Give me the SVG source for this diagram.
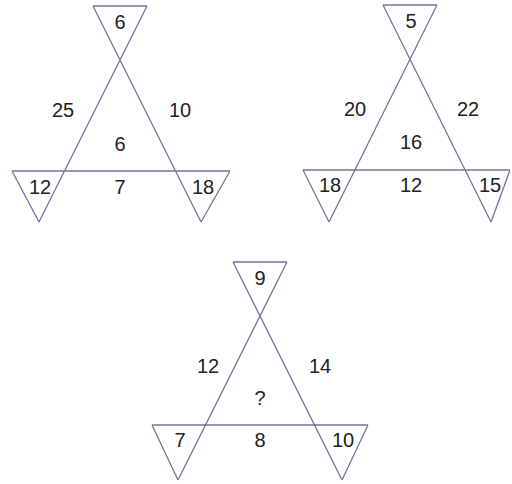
<svg xmlns="http://www.w3.org/2000/svg" width="512" height="484" viewBox="0 0 512 484">
<style>
  .ln { fill: none; stroke: #75739f; stroke-width: 1.3; stroke-linejoin: miter; }
  .t { font-family: "Liberation Sans", Arial, sans-serif; font-size: 20px; fill: #222222; text-anchor: middle; }
</style>
<rect width="512" height="484" fill="#ffffff"/>
<g id="figure1">
  <path class="ln" d="M93,6 L147,6 M93,6 L201,222 M147,6 L39,222 M12,171 L230,171 M12,171 L39,222 M230,171 L201,222"/>
  <text class="t" x="120" y="29">6</text>
  <text class="t" x="63" y="117">25</text>
  <text class="t" x="180" y="117">10</text>
  <text class="t" x="120" y="151">6</text>
  <text class="t" x="40" y="194">12</text>
  <text class="t" x="120" y="194">7</text>
  <text class="t" x="203" y="194">18</text>
</g>
<g id="figure2">
  <path class="ln" d="M383,5 L437,5 M383,5 L491,222 M437,5 L329,222 M303,170 L510,170 M303,170 L329,222 M510,170 L491,222"/>
  <text class="t" x="411" y="28">5</text>
  <text class="t" x="355" y="116">20</text>
  <text class="t" x="468" y="116">22</text>
  <text class="t" x="411" y="149">16</text>
  <text class="t" x="330" y="192">18</text>
  <text class="t" x="411" y="192">12</text>
  <text class="t" x="490" y="192">15</text>
</g>
<g id="figure3">
  <path class="ln" d="M233,262 L287,262 M233,262 L342,480 M287,262 L178,480 M152,425 L368,425 M152,425 L178,480 M368,425 L342,480"/>
  <text class="t" x="260" y="285">9</text>
  <text class="t" x="208" y="373">12</text>
  <text class="t" x="320" y="373">14</text>
  <text class="t" x="260" y="405">?</text>
  <text class="t" x="180" y="447">7</text>
  <text class="t" x="260" y="447">8</text>
  <text class="t" x="343" y="447">10</text>
</g>
</svg>
